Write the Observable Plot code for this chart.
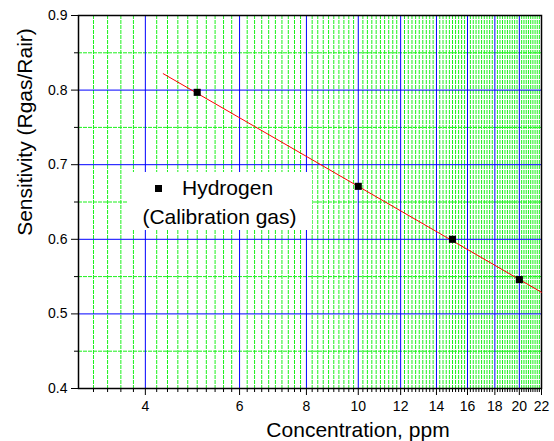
<!DOCTYPE html>
<html><head><meta charset="utf-8">
<script src="https://cdn.jsdelivr.net/npm/d3@7"></script>
<script src="https://cdn.jsdelivr.net/npm/@observablehq/plot@0.6"></script>
<style>
html,body{margin:0;padding:0;background:#fff;}
#wrap{position:relative;width:554px;height:441px;font-family:"Liberation Sans",Arial,sans-serif;}
#legend{position:absolute;left:127px;top:172px;width:185px;height:58px;background:#fff;color:#000;font-size:21px;line-height:21px;}
#legend .sq{position:absolute;left:28px;top:13px;width:7px;height:7px;background:#000;}
#legend .t1{position:absolute;left:55px;top:5px;white-space:nowrap;}
#legend .t2{position:absolute;left:0;top:34px;width:185px;text-align:center;white-space:nowrap;}
</style></head><body><div id="wrap"></div>
<script>
// Data
const concentration = [5, 10, 15, 20];
const sensitivity = [0.797, 0.671, 0.600, 0.546];
// Linear fit (in log x) endpoints
const fitX = [4.32, 22];
const fitY = [0.822, 0.529];
// Ticks
const xTicks = [4, 6, 8, 10, 12, 14, 16, 18, 20, 22];
const xMinor = d3.range(16, 110).filter(i => i % 10 !== 0).map(i => i / 5);
const yTicks = [0.4, 0.5, 0.6, 0.7, 0.8, 0.9];
const yMinor = [0.45, 0.55, 0.65, 0.75, 0.85];
const xTitle = "Concentration, ppm";
const yTitle = "Sensitivity (Rgas/Rair)";
const legendName = "Hydrogen";
const legendSub = "(Calibration gas)";

const points = concentration.map((c, i) => ({x: c, y: sensitivity[i]}));
const fit = fitX.map((x, i) => ({x, y: fitY[i]}));
const green = "#1cf01c";
const blue = "#0000ff";

const chart = Plot.plot({
  width: 554, height: 441,
  marginLeft: 78, marginRight: 13, marginTop: 15, marginBottom: 53,
  style: {fontFamily: "Liberation Sans, Arial, sans-serif", fontSize: "14px", background: "white", color: "black"},
  x: {type: "log", domain: [3, 22]},
  y: {domain: [0.4, 0.9]},
  marks: [
    Plot.ruleX(xMinor, {stroke: green, strokeDasharray: "4,1", strokeWidth: 1}),
    Plot.ruleY(yMinor, {stroke: green, strokeDasharray: "4,1", strokeWidth: 1}),
    Plot.ruleX(xTicks.filter(d => d < 22), {stroke: blue, strokeWidth: 1}),
    Plot.ruleY(yTicks.filter(d => d > 0.4 && d < 0.9), {stroke: blue, strokeWidth: 1}),
    Plot.frame({stroke: "black", strokeWidth: 1.5}),
    Plot.axisX({ticks: xMinor, tickSize: 4, tickFormat: () => "", label: null}),
    Plot.axisX({ticks: xTicks, tickSize: 7, tickPadding: 6, tickFormat: d => String(d), fontSize: 14, label: null}),
    Plot.axisY({ticks: yMinor, tickSize: 4, tickFormat: () => "", label: null}),
    Plot.axisY({ticks: yTicks, tickSize: 7, tickPadding: 4, tickFormat: d => d.toFixed(1), fontSize: 14, label: null}),
    Plot.line(fit, {x: "x", y: "y", stroke: "red", strokeWidth: 1}),
    Plot.dot(points, {x: "x", y: "y", symbol: "square", fill: "black", r: 4}),
    Plot.text([xTitle], {frameAnchor: "bottom", dx: 48, dy: 42, fontSize: 21, textAnchor: "middle", lineAnchor: "middle"}),
    Plot.text([yTitle], {frameAnchor: "left", dx: -53, dy: -70, rotate: -90, fontSize: 21, textAnchor: "middle", lineAnchor: "middle"})
  ]
});
const wrap = document.getElementById("wrap");
wrap.appendChild(chart);
const lg = document.createElement("div");
lg.id = "legend";
lg.innerHTML = '<div class="sq"></div><div class="t1"></div><div class="t2"></div>';
lg.querySelector(".t1").textContent = legendName;
lg.querySelector(".t2").textContent = legendSub;
wrap.appendChild(lg);
</script>
</body></html>
